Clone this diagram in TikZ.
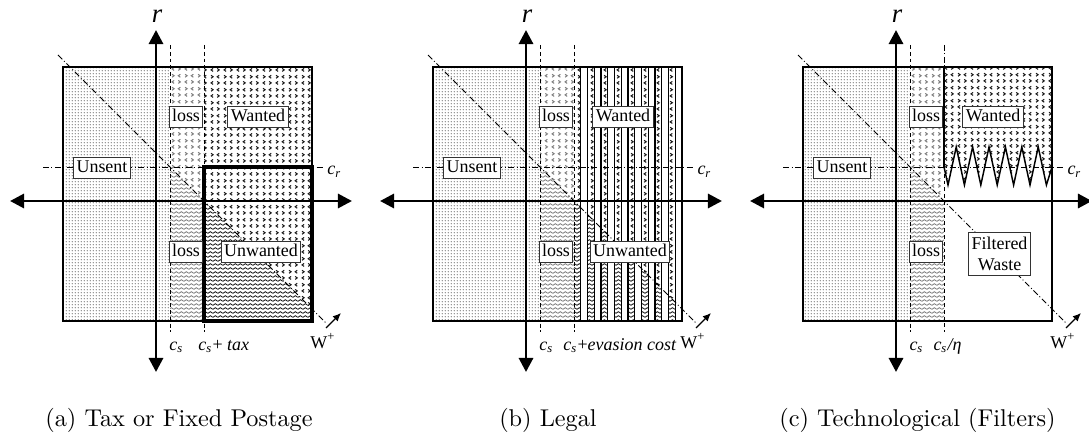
\documentclass[tikz,border=0pt]{standalone}
\usepackage{fontspec}
\newfontfamily\tms{Liberation Serif}
\usetikzlibrary{arrows.meta,patterns}

\newcommand{\lblfont}{\tms\fontsize{7.4}{8.6}\selectfont}

% fine dots, <> marks and wavy lines
\pgfdeclarepatternformonly{fdots}{\pgfqpoint{0pt}{0pt}}{\pgfqpoint{1.3pt}{1.3pt}}{\pgfqpoint{1.3pt}{1.3pt}}{%
  \pgfpathcircle{\pgfqpoint{0.65pt}{0.65pt}}{0.27pt}\pgfusepath{fill}}
\pgfdeclarepatternformonly{chev}{\pgfqpoint{0pt}{0pt}}{\pgfqpoint{5.4pt}{5.4pt}}{\pgfqpoint{5.4pt}{5.4pt}}{%
  \pgfsetlinewidth{0.45pt}%
  \pgfpathmoveto{\pgfqpoint{1.8pt}{0.7pt}}\pgfpathlineto{\pgfqpoint{0.9pt}{1.35pt}}\pgfpathlineto{\pgfqpoint{1.8pt}{2.0pt}}%
  \pgfpathmoveto{\pgfqpoint{3.6pt}{0.7pt}}\pgfpathlineto{\pgfqpoint{4.5pt}{1.35pt}}\pgfpathlineto{\pgfqpoint{3.6pt}{2.0pt}}%
  \pgfpathmoveto{\pgfqpoint{0.9pt}{3.4pt}}\pgfpathlineto{\pgfqpoint{1.8pt}{4.05pt}}\pgfpathlineto{\pgfqpoint{0.9pt}{4.7pt}}%
  \pgfpathmoveto{\pgfqpoint{4.5pt}{3.4pt}}\pgfpathlineto{\pgfqpoint{3.6pt}{4.05pt}}\pgfpathlineto{\pgfqpoint{4.5pt}{4.7pt}}%
  \pgfusepath{stroke}}
\pgfdeclarepatternformonly{wavy}{\pgfqpoint{0pt}{0pt}}{\pgfqpoint{2pt}{1.7pt}}{\pgfqpoint{2pt}{1.7pt}}{%
  \pgfsetlinewidth{0.38pt}%
  \pgfpathmoveto{\pgfqpoint{0pt}{0.35pt}}\pgfpathlineto{\pgfqpoint{1pt}{1.15pt}}\pgfpathlineto{\pgfqpoint{2pt}{0.35pt}}%
  \pgfusepath{stroke}}

\tikzset{
  axis/.style={line width=1.2pt, {Triangle[length=5.8pt,width=5.8pt]}-{Triangle[length=5.8pt,width=5.8pt]}},
  dline/.style={line width=0.35pt, dash pattern=on 1.6pt off 1.2pt},
  ddline/.style={line width=0.35pt, dash pattern=on 2.5pt off 1pt on 0.4pt off 1pt},
  tag/.style={draw=black!80, fill=white, line width=0.45pt, inner xsep=1.2pt, inner ysep=1pt,
    text height=5.2pt, text depth=1.2pt, font=\lblfont},
  lbl/.style={inner sep=0pt, font=\lblfont},
  captext/.style={inner sep=0pt, font=\normalsize}
}

% the parts every panel has
\newcommand{\leftregions}{%
  \fill[pattern=fdots, pattern color=black!55] (-93,-134) rectangle (14,120);
  \fill[pattern=chev, pattern color=black!50] (14,-134) -- (48,-134) -- (48,0) -- (14,-34) -- cycle;
  \fill[pattern=wavy, pattern color=black!50] (14,-34) -- (48,0) -- (48,120) -- (14,120) -- cycle;
}
\newcommand{\commonparts}{%
  \draw[line width=0.5pt] (-93,-134) rectangle (156,120);
  \draw[dline] (14,-156) -- (14,131);
  \draw[ddline] (-113,-34) -- (169,-34);
  \draw[ddline] (-98,-146) -- (171,123);
  \draw[line width=0.5pt, -{Latex[length=3.4pt,width=3pt]}] (170,127) -- (185,112);
  \draw[axis] (-146,0) -- (196,0);
  \draw[axis] (0,171) -- (0,-171);
}
\newcommand{\commonlabels}{%
  \node[inner sep=0pt, font=\tms\fontsize{11}{12}\selectfont] (rlabel) at (1,-185) {\textit{r}};
  \node[lbl, anchor=base west] (crlabel) at (171,-26) {\textit{c}\textsubscript{\textit{r}}};
  \node[lbl, anchor=base west] (cslabel) at (13,149) {\textit{c}\textsubscript{\textit{s}}};
  \node[lbl] (wlabel) at (167,140) {W\textsuperscript{+}};
  \node[tag] (unsent) at (-54,-33) {Unsent};
  \node[tag] (lossup) at (30,-84) {loss};
  \node[tag] (lossdown) at (30,51) {loss};
}

\begin{document}
\begin{tikzpicture}[x=0.412pt, y=-0.412pt]
\useasboundingbox (0,0) rectangle (1089,437);

% (a) tax
\begin{scope}[shift={(156,201)}, name prefix=a-]
  \leftregions
  \fill[pattern=chev, pattern color=black!90] (48,-134) -- (156,-134) -- (156,108) -- (48,0) -- cycle;
  \fill[pattern=wavy, pattern color=black!90] (48,0) -- (156,108) -- (156,120) -- (48,120) -- cycle;
  \draw[dline] (48,-156) -- (48,131);
  \commonparts
  \draw[line width=1.3pt] (48,-34) rectangle (156,120);
  \commonlabels
  \node[lbl, anchor=base west] (cslabel2) at (42,149) {\textit{c}\textsubscript{\textit{s}}+ \textit{tax}};
  \node[tag] (wanted) at (102,-84) {Wanted};
  \node[tag] (unwanted) at (105,51) {Unwanted};
  \node[captext] (caption) at (23,219) {(a) Tax or Fixed Postage};
\end{scope}

% (b) legal
\begin{scope}[shift={(526,201)}, name prefix=b-]
  \leftregions
  \begin{scope}
    \clip (48,-134) -- (156,-134) -- (156,108) -- (48,0) -- cycle;
    \foreach \k in {0,...,7}
      \fill[pattern=chev, pattern color=black!90] (48+13.5*\k,-134) rectangle +(6.75,254);
  \end{scope}
  \begin{scope}
    \clip (48,0) -- (156,108) -- (156,120) -- (48,120) -- cycle;
    \foreach \k in {0,...,7}
      \fill[pattern=wavy, pattern color=black!90] (48+13.5*\k,-134) rectangle +(6.75,254);
  \end{scope}
  \foreach \k in {1,...,15}
    \draw[line width=0.6pt] (48+6.75*\k,-134) -- +(0,254);
  \draw[dline] (48,-156) -- (48,131);
  \commonparts
  \commonlabels
  \node[lbl, anchor=base west] (cslabel2) at (37,149) {\textit{c}\textsubscript{\textit{s}}+\textit{evasion cost}};
  \node[tag] (wanted) at (97,-84) {Wanted};
  \node[tag] (unwanted) at (104,51) {Unwanted};
  \node[captext] (caption) at (22,219) {(b) Legal};
\end{scope}

% (c) filters
\begin{scope}[shift={(896,201)}, name prefix=c-]
  \leftregions
  \fill[pattern=chev, pattern color=black!90] (156,-34) -- (156,-134) -- (48,-134) -- (48,-34)
    \foreach \k in {0,...,5} {-- (52+16.4*\k,-16) -- (60.2+16.4*\k,-54)} -- (150.4,-16) -- cycle;
  \draw[line width=0.6pt] (48,-34)
    \foreach \k in {0,...,5} {-- (52+16.4*\k,-16) -- (60.2+16.4*\k,-54)} -- (150.4,-16) -- (156,-34);
  \draw[ddline] (48,-156) -- (48,-134);
  \draw[line width=0.5pt] (48,-134) -- (48,-34);
  \draw[dline] (48,-34) -- (48,131);
  \commonparts
  \commonlabels
  \node[lbl, anchor=base west] (cslabel2) at (37,149) {\textit{c\textsubscript{s}/η}};
  \node[tag] (wanted) at (97,-84) {Wanted};
  \node[tag, align=center, text height=, text depth=, inner ysep=1.8pt] (filtered) at (103.5,53) {Filtered\\Waste};
  \node[captext] (caption) at (21.5,219) {(c) Technological (Filters)};
\end{scope}
\end{tikzpicture}
\end{document}
